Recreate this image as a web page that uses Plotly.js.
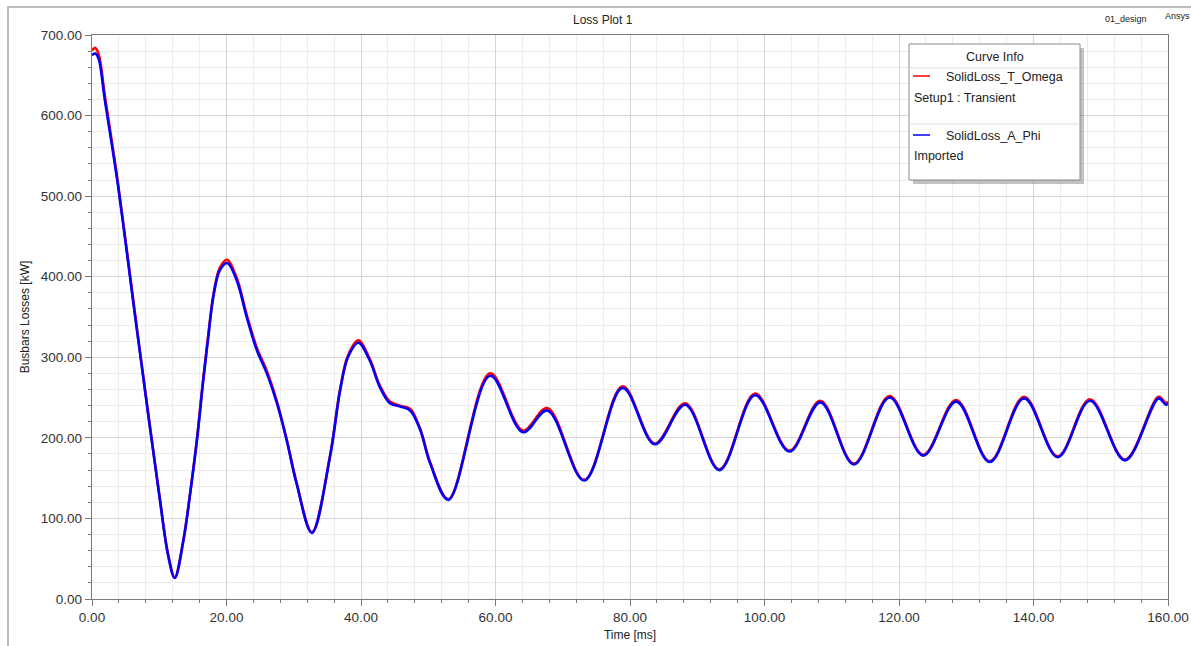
<!DOCTYPE html>
<html>
<head>
<meta charset="utf-8">
<script src="https://cdn.plot.ly/plotly-3.0.1.min.js"></script>
<style>
  html, body { margin: 0; padding: 0; background: #ffffff; }
  #chart { width: 1191px; height: 646px; }
</style>
</head>
<body>
<div id="chart"></div>
<script>
// ---- data ----
const timeMs = [0, 0.5, 1.0, 1.9, 3.85, 6.3, 8.6, 10.1, 11.3, 12.3, 13.6, 14.6, 15.6, 16.55, 17.3, 18.04, 19.0, 20.1,
  21.5, 23.0, 24.5, 26.0, 27.5, 28.95, 30.4, 32.7, 35.4, 36.9, 38.1, 39.6,
  41.3, 42.8, 44.3, 45.8, 47.3, 48.8, 50.3, 53.0,
  59.2, 64.1, 67.7, 73.2, 78.9, 83.7, 88.2, 93.3, 98.6, 103.7, 108.3, 113.3, 118.6,
  123.6, 128.5, 133.5, 138.6, 143.6, 148.4, 153.6, 158.6, 159.7, 160];

const lossAPhi = [675, 677, 670, 620, 514, 358, 214, 123, 55, 26, 73, 131, 197, 272, 326, 375, 408, 417,
  396, 350, 309, 280, 243, 197, 144, 82, 177, 259, 301, 318,
  296, 263, 243, 239, 234, 210, 168, 123,
  277, 207, 234, 147, 262, 192, 241, 160, 253, 183, 244, 167, 250,
  178, 245, 170, 249, 176, 246, 172, 249, 241, 243];

const lossTOmega = [681, 684, 676, 625, 517, 360, 215, 124, 56, 27, 74, 132, 198, 274, 328, 377, 411, 421,
  399, 353, 312, 283, 245, 198, 145, 83, 178, 261, 303, 321,
  298, 265, 245, 240, 236, 211, 169, 124,
  280, 209, 237, 148, 264, 193, 243, 161, 255, 184, 246, 168, 252,
  179, 247, 171, 251, 177, 248, 173, 251, 243, 245];

const xTickVals = [0, 20, 40, 60, 80, 100, 120, 140, 160];
const yTickVals = [0, 100, 200, 300, 400, 500, 600, 700];

// ---- layout helpers (pixel -> paper) ----
const W = 1191, H = 646;
const M = { l: 92, r: 23, t: 35, b: 47 };
const PW = W - M.l - M.r, PH = H - M.t - M.b;
const px = v => (v - M.l) / PW;
const py = v => (H - M.b - v) / PH;

const fontFam = '"Liberation Sans", Arial, sans-serif';

const traces = [
  { x: timeMs, y: lossTOmega, type: 'scatter', mode: 'lines', name: 'SolidLoss_T_Omega',
    line: { color: '#ff0000', width: 2.6, shape: 'spline', smoothing: 1.0 }, hoverinfo: 'x+y+name' },
  { x: timeMs, y: lossAPhi, type: 'scatter', mode: 'lines', name: 'SolidLoss_A_Phi',
    line: { color: '#0000ff', width: 2.6, shape: 'spline', smoothing: 1.0 }, hoverinfo: 'x+y+name' }
];

// legend box geometry (pixels)
const LB = { x0: 909, y0: 44, x1: 1080, y1: 180 };

const shapes = [
  // outer frame
  { type: 'rect', xref: 'paper', yref: 'paper', x0: px(8), x1: px(1260), y0: py(7), y1: py(720),
    line: { color: '#a8a8a8', width: 1.5 }, fillcolor: 'rgba(0,0,0,0)', layer: 'below' },
  // legend shadow
  { type: 'rect', xref: 'paper', yref: 'paper', x0: px(LB.x0 + 4), x1: px(LB.x1 + 4), y0: py(LB.y0 + 4), y1: py(LB.y1 + 4),
    line: { width: 0 }, fillcolor: 'rgba(120,120,120,0.45)' },
  // legend box
  { type: 'rect', xref: 'paper', yref: 'paper', x0: px(LB.x0), x1: px(LB.x1), y0: py(LB.y0), y1: py(LB.y1),
    line: { color: '#8a8a8a', width: 1 }, fillcolor: '#ffffff' },
  // separators
  { type: 'line', xref: 'paper', yref: 'paper', x0: px(LB.x0), x1: px(LB.x1), y0: py(68), y1: py(68),
    line: { color: '#dddddd', width: 1 } },
  { type: 'line', xref: 'paper', yref: 'paper', x0: px(LB.x0), x1: px(LB.x1), y0: py(124), y1: py(124),
    line: { color: '#dddddd', width: 1 } },
  // legend line samples
  { type: 'line', xref: 'paper', yref: 'paper', x0: px(913), x1: px(930), y0: py(76), y1: py(76),
    line: { color: '#ff0000', width: 1.5 } },
  { type: 'line', xref: 'paper', yref: 'paper', x0: px(913), x1: px(930), y0: py(135), y1: py(135),
    line: { color: '#0000ff', width: 1.5 } }
];

const txt = (text, x, y, size, xanchor, extra) => Object.assign({
  text: text, xref: 'paper', yref: 'paper', x: px(x), y: py(y), showarrow: false,
  xanchor: xanchor || 'left', yanchor: 'middle',
  font: { family: fontFam, size: size, color: '#222222' }
}, extra || {});

const annotations = [
  txt('Loss Plot 1', 603, 20, 12, 'center'),
  txt('01_design', 1103, 19, 9, 'left'),
  txt('Ansys', 1163, 16, 9, 'left'),
  txt('Curve Info', 995, 57, 12.5, 'center'),
  txt('SolidLoss_T_Omega', 944, 77, 12.5, 'left'),
  txt('Setup1 : Transient', 912, 98, 12.5, 'left'),
  txt('SolidLoss_A_Phi', 944, 136, 12.5, 'left'),
  txt('Imported', 912, 156, 12.5, 'left')
];

const axisCommon = {
  showline: true, linecolor: '#7a7a7a', linewidth: 1.2, mirror: true,
  ticks: 'outside', ticklen: 6, tickcolor: '#7a7a7a', tickwidth: 1,
  showgrid: true, gridcolor: '#d4d4d4', gridwidth: 1,
  zeroline: false, tickformat: '.2f',
  tickfont: { family: fontFam, size: 13.5, color: '#333333' }
};

const layout = {
  width: W, height: H,
  margin: M,
  paper_bgcolor: '#ffffff', plot_bgcolor: '#ffffff',
  showlegend: false,
  xaxis: Object.assign({}, axisCommon, {
    range: [0, 160], tickmode: 'array', tickvals: xTickVals,
    minor: { dtick: 4, tick0: 0, showgrid: true, gridcolor: '#ececec', ticks: 'outside', ticklen: 3, tickcolor: '#7a7a7a' },
    title: { text: 'Time [ms]', standoff: 6, font: { family: fontFam, size: 12, color: '#222222' } }
  }),
  yaxis: Object.assign({}, axisCommon, {
    range: [0, 700], tickmode: 'array', tickvals: yTickVals,
    minor: { dtick: 20, tick0: 0, showgrid: true, gridcolor: '#ececec', ticks: 'outside', ticklen: 3, tickcolor: '#7a7a7a' },
    title: { text: 'Busbars Losses [kW]', standoff: 8, font: { family: fontFam, size: 12, color: '#222222' } }
  }),
  shapes: shapes,
  annotations: annotations
};

Plotly.newPlot('chart', traces, layout, { staticPlot: true, displayModeBar: false });
</script>
</body>
</html>
